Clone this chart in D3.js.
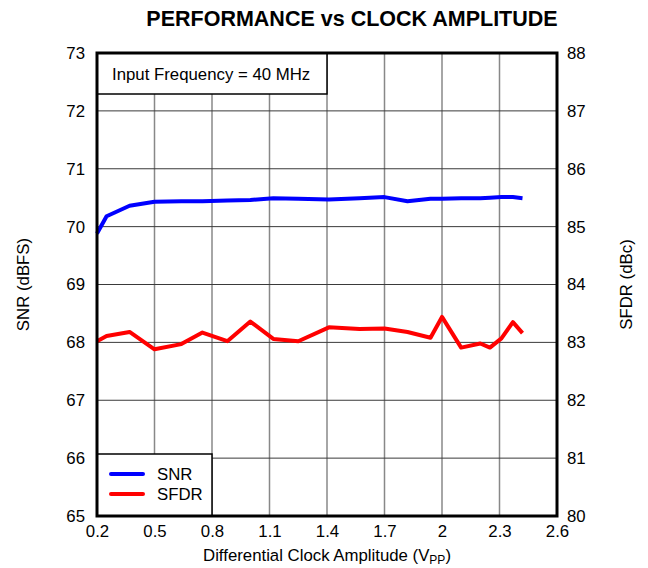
<!DOCTYPE html>
<html>
<head>
<meta charset="utf-8">
<script src="https://cdn.jsdelivr.net/npm/d3@7"></script>
<style>
  body { margin: 0; background: #fff; }
  svg { font-family: "Liberation Sans", Arial, sans-serif; }
</style>
</head>
<body>
<svg id="chart" width="648" height="568"></svg>
<script>
// Clock amplitude sweep (Vpp)
const amplitude = [0.2, 0.25, 0.37, 0.5, 0.64, 0.75, 0.88, 1.0, 1.12, 1.25, 1.41, 1.57, 1.7, 1.82, 1.94, 2.0, 2.1, 2.2, 2.25, 2.31, 2.37, 2.42];
// SNR in dBFS (left axis)
const snr = [69.88, 70.18, 70.36, 70.43, 70.44, 70.44, 70.45, 70.46, 70.49, 70.48, 70.47, 70.49, 70.51, 70.44, 70.48, 70.48, 70.49, 70.49, 70.50, 70.51, 70.51, 70.49];
// SFDR in dBc (right axis)
const sfdr = [83.02, 83.11, 83.18, 82.88, 82.97, 83.17, 83.02, 83.36, 83.06, 83.02, 83.26, 83.23, 83.24, 83.18, 83.08, 83.44, 82.91, 82.98, 82.91, 83.07, 83.35, 83.16];

const xTicks = [0.2, 0.5, 0.8, 1.1, 1.4, 1.7, 2.0, 2.3, 2.6];
const snrTicks = [65, 66, 67, 68, 69, 70, 71, 72, 73];
const sfdrTicks = [80, 81, 82, 83, 84, 85, 86, 87, 88];

const svg = d3.select("#chart");
const L = 97, R = 557, T = 53, B = 516;
const FS = 16.8;

const x = d3.scaleLinear().domain([0.2, 2.6]).range([L, R]);
const yL = d3.scaleLinear().domain([65, 73]).range([B, T]);
const yR = d3.scaleLinear().domain([80, 88]).range([B, T]);

// Title
svg.append("text").attr("x", 352).attr("y", 26).attr("text-anchor", "middle")
  .attr("font-size", 21.5).attr("font-weight", "bold").text("PERFORMANCE vs CLOCK AMPLITUDE");

// Grid lines
const grid = svg.append("g");
grid.selectAll("line.v").data(xTicks.slice(1, -1)).enter().append("line")
  .attr("x1", d => x(d)).attr("x2", d => x(d)).attr("y1", T).attr("y2", B)
  .attr("stroke", "#888").attr("stroke-width", 1.5);
grid.selectAll("line.h").data(snrTicks.slice(1, -1)).enter().append("line")
  .attr("x1", L).attr("x2", R).attr("y1", d => yL(d)).attr("y2", d => yL(d))
  .attr("stroke", "#3a3a3a").attr("stroke-width", 1);

// Axes (labels only, frame drawn separately)
const axisStyle = g => {
  g.select(".domain").remove();
  g.selectAll(".tick line").remove();
  g.selectAll("text").attr("font-size", FS).attr("fill", "#000")
    .attr("font-family", "Liberation Sans, Arial, sans-serif");
};
svg.append("g").attr("transform", `translate(0,${B})`)
  .call(d3.axisBottom(x).tickValues(xTicks).tickFormat(d3.format("~g")).tickSize(0).tickPadding(9))
  .call(axisStyle);
svg.append("g").attr("transform", `translate(${L},0)`)
  .call(d3.axisLeft(yL).tickValues(snrTicks).tickSize(0).tickPadding(12))
  .call(axisStyle);
svg.append("g").attr("transform", `translate(${R},0)`)
  .call(d3.axisRight(yR).tickValues(sfdrTicks).tickSize(0).tickPadding(10))
  .call(axisStyle);

// Axis titles
svg.append("text").attr("transform", `translate(29,${(T + B) / 2}) rotate(-90)`)
  .attr("text-anchor", "middle").attr("font-size", FS).text("SNR (dBFS)");
svg.append("text").attr("transform", `translate(632,${(T + B) / 2}) rotate(-90)`)
  .attr("text-anchor", "middle").attr("font-size", FS).text("SFDR (dBc)");
const xt = svg.append("text").attr("x", 327).attr("y", 561).attr("text-anchor", "middle").attr("font-size", FS);
xt.append("tspan").text("Differential Clock Amplitude (V");
xt.append("tspan").attr("font-size", 12).attr("dy", 3).text("PP");
xt.append("tspan").attr("dy", -3).text(")");

// Data lines
const lineL = d3.line().x((d, i) => x(amplitude[i])).y(d => yL(d));
const lineR = d3.line().x((d, i) => x(amplitude[i])).y(d => yR(d));
svg.append("path").datum(snr).attr("d", lineL).attr("fill", "none")
  .attr("stroke", "#0000ff").attr("stroke-width", 4).attr("stroke-linejoin", "round");
svg.append("path").datum(sfdr).attr("d", lineR).attr("fill", "none")
  .attr("stroke", "#ff0000").attr("stroke-width", 4).attr("stroke-linejoin", "round");

// Annotation box
svg.append("rect").attr("x", L).attr("y", T).attr("width", x(1.4) - L).attr("height", 41)
  .attr("fill", "#fff").attr("stroke", "#000").attr("stroke-width", 1.5);
svg.append("text").attr("x", 112).attr("y", 80).attr("font-size", FS).text("Input Frequency = 40 MHz");

// Legend
const lg = svg.append("g");
lg.append("rect").attr("x", L).attr("y", 454).attr("width", x(0.8) - L).attr("height", B - 454)
  .attr("fill", "#fff").attr("stroke", "#000").attr("stroke-width", 1.5);
const legendItems = [["SNR", "#0000ff", 474], ["SFDR", "#ff0000", 494]];
legendItems.forEach(([name, color, yy]) => {
  lg.append("line").attr("x1", 111).attr("x2", 143).attr("y1", yy).attr("y2", yy)
    .attr("stroke", color).attr("stroke-width", 4).attr("stroke-linecap", "round");
  lg.append("text").attr("x", 157).attr("y", yy + 6).attr("font-size", FS).text(name);
});

// Plot frame
svg.append("rect").attr("x", L).attr("y", T).attr("width", R - L).attr("height", B - T)
  .attr("fill", "none").attr("stroke", "#000").attr("stroke-width", 3);
</script>
</body>
</html>
